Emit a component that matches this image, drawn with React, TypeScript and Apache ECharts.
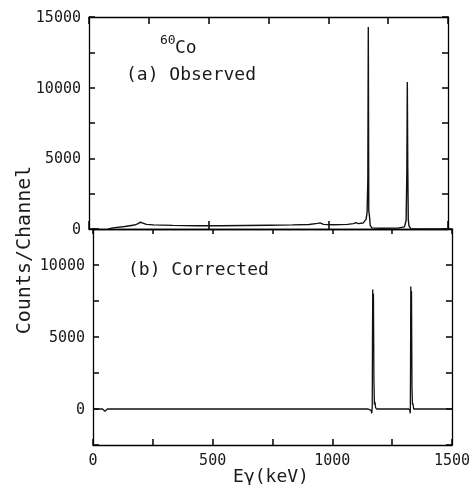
import React, { useEffect, useRef } from "react";
import * as echarts from "echarts";

// (a) Observed spectrum: energy (keV) and counts per channel
const observedEnergy = [80, 100, 150, 190, 205, 215, 225, 240, 270, 350, 450, 550, 650, 750, 850, 920, 955, 965, 980, 1020, 1080, 1105, 1115, 1125, 1145, 1158, 1162, 1165, 1167, 1169, 1172, 1175, 1182, 1220, 1290, 1318, 1325, 1328, 1330, 1332, 1334, 1337, 1345, 1400, 1500];
const observedCounts = [0, 80, 180, 280, 380, 480, 420, 330, 290, 260, 230, 230, 250, 270, 290, 320, 400, 430, 330, 300, 330, 380, 450, 380, 420, 700, 1200, 3500, 14300, 1300, 900, 250, 80, 50, 60, 150, 600, 4000, 10400, 4200, 700, 200, 30, 10, 0];

// (b) Corrected spectrum
const correctedEnergy = [0, 40, 50, 60, 300, 700, 1000, 1150, 1162, 1165, 1167, 1168, 1169, 1170, 1172, 1174, 1176, 1178, 1181, 1185, 1200, 1300, 1320, 1324, 1326, 1327, 1328, 1329, 1331, 1333, 1335, 1337, 1340, 1350, 1500];
const correctedCounts = [0, 0, -150, 0, 0, 0, 0, 0, -100, -300, 200, 5000, 8300, 6500, 8000, 2000, 300, 500, 100, 0, 0, 0, 0, -100, -300, 3000, 8500, 6800, 8200, 1500, 300, 400, 0, 0, 0];

const xTickLabels = [0, 500, 1000, 1500];
const yLabelStep = 5000;

const FONT = "DejaVu Sans Mono";
const INK = "#1a1a1a";

export default function App() {
  const ref = useRef<HTMLDivElement>(null);

  useEffect(() => {
    if (!ref.current) return;
    const chart = echarts.init(ref.current, undefined, { renderer: "svg" });

    const yFmt = (v: number) => (v % yLabelStep === 0 && v >= 0 ? String(v) : "");
    const xFmt = (v: number) => (xTickLabels.indexOf(v) >= 0 ? String(v) : "");

    const mkX = (g: number, pos: string, step: number, len: number, labels: boolean) => ({
      type: "value",
      gridIndex: g,
      position: pos,
      min: 0,
      max: 1500,
      interval: step,
      axisLine: { show: true, onZero: false, lineStyle: { color: "#000", width: 1.3 } },
      axisTick: { show: true, inside: true, length: len, lineStyle: { color: "#000", width: 1.5 } },
      axisLabel: labels
        ? { show: true, formatter: xFmt, fontFamily: FONT, fontSize: 15, color: INK, margin: 7 }
        : { show: false },
      splitLine: { show: false },
    });

    const mkY = (g: number, pos: string, min: number, max: number, labels: boolean) => ({
      type: "value",
      gridIndex: g,
      position: pos,
      min,
      max,
      interval: 2500,
      axisLine: { show: true, onZero: false, lineStyle: { color: "#000", width: 1.3 } },
      axisTick: { show: true, inside: true, length: 6, lineStyle: { color: "#000", width: 1.5 } },
      axisLabel: labels
        ? { show: true, formatter: yFmt, fontFamily: FONT, fontSize: 15, color: INK, margin: 8 }
        : { show: false },
      splitLine: { show: false },
    });

    chart.setOption({
      animation: false,
      grid: [
        { left: 89, top: 17, width: 359, height: 212 },
        { left: 93, top: 229, width: 359, height: 216 },
      ],
      xAxis: [
        mkX(0, "bottom", 500, 8, false),
        mkX(0, "top", 250, 7, false),
        mkX(1, "bottom", 250, 6, true),
        mkX(1, "top", 250, 5, false),
      ],
      yAxis: [
        mkY(0, "left", 0, 15000, true),
        mkY(0, "right", 0, 15000, false),
        mkY(1, "left", -2500, 12500, true),
        mkY(1, "right", -2500, 12500, false),
      ],
      series: [
        {
          type: "line",
          xAxisIndex: 0,
          yAxisIndex: 0,
          data: observedEnergy.map((e, i) => [e, observedCounts[i]]),
          showSymbol: false,
          lineStyle: { color: "#111", width: 1.4 },
        },
        {
          type: "line",
          xAxisIndex: 2,
          yAxisIndex: 2,
          data: correctedEnergy.map((e, i) => [e, correctedCounts[i]]),
          showSymbol: false,
          lineStyle: { color: "#111", width: 1.3 },
        },
      ],
      graphic: [
        { type: "text", x: 160, y: 39, style: { text: "60", fontFamily: FONT, fontSize: 13, fill: INK, align: "left", verticalAlign: "middle" } },
        { type: "text", x: 175, y: 46, style: { text: "Co", fontFamily: FONT, fontSize: 18, fill: INK, align: "left", verticalAlign: "middle" } },
        { type: "text", x: 126, y: 73, style: { text: "(a) Observed", fontFamily: FONT, fontSize: 18, fill: INK, align: "left", verticalAlign: "middle" } },
        { type: "text", x: 128, y: 268, style: { text: "(b) Corrected", fontFamily: FONT, fontSize: 18, fill: INK, align: "left", verticalAlign: "middle" } },
        { type: "text", x: 271, y: 475, style: { text: "Eγ(keV)", fontFamily: FONT, fontSize: 18, fill: INK, align: "center", verticalAlign: "middle" } },
        { type: "text", x: 23, y: 250, rotation: Math.PI / 2, style: { text: "Counts/Channel", fontFamily: FONT, fontSize: 20, fill: INK, align: "center", verticalAlign: "middle" } },
      ],
    });

    return () => chart.dispose();
  }, []);

  return <div ref={ref} style={{ position: "fixed", left: 0, top: 0, width: 473, height: 485 }} />;
}
